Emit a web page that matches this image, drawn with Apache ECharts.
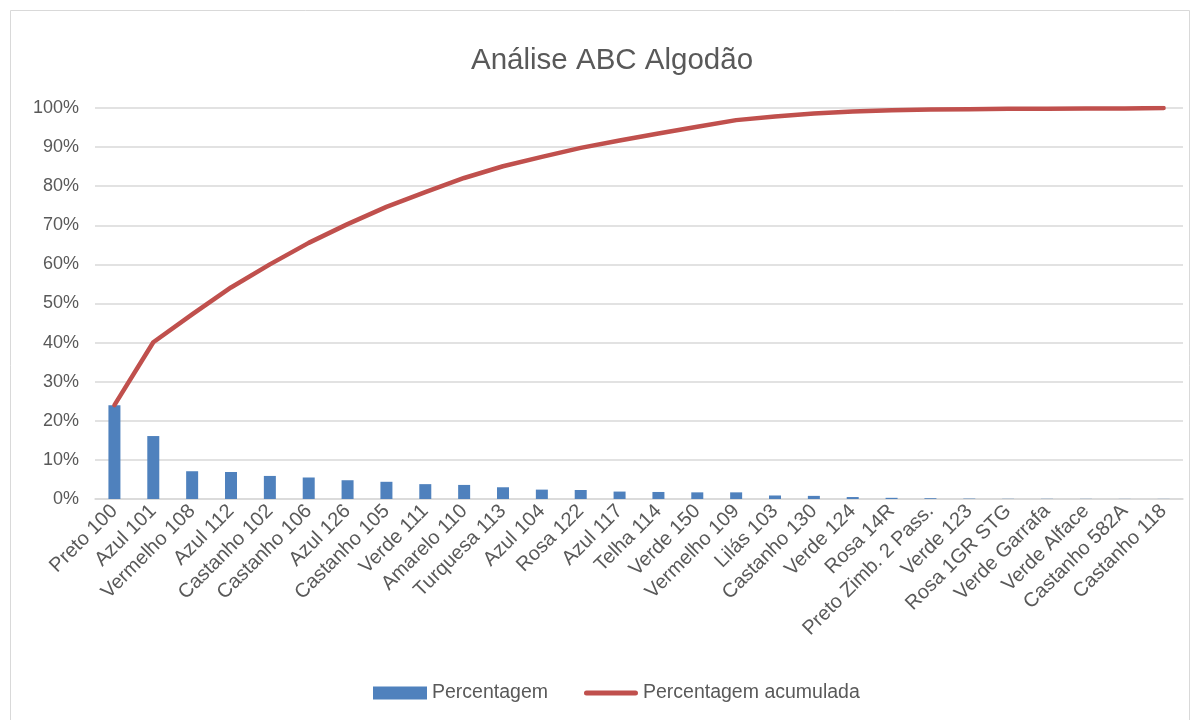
<!DOCTYPE html>
<html>
<head>
<meta charset="utf-8">
<script src="https://cdn.jsdelivr.net/npm/echarts@6/dist/echarts.min.js"></script>
<style>
  html, body { margin: 0; padding: 0; background: #ffffff; }
  #chart { width: 1200px; height: 720px; }
</style>
</head>
<body>
<div id="chart"></div>
<script>
// Cores de algodão, ordenadas por percentagem (análise ABC)
const categories = [
  'Preto 100', 'Azul 101', 'Vermelho 108', 'Azul 112', 'Castanho 102',
  'Castanho 106', 'Azul 126', 'Castanho 105', 'Verde 111', 'Amarelo 110',
  'Turquesa 113', 'Azul 104', 'Rosa 122', 'Azul 117', 'Telha 114',
  'Verde 150', 'Vermelho 109', 'Lilás 103', 'Castanho 130', 'Verde 124',
  'Rosa 14R', 'Preto Zimb. 2 Pass.', 'Verde 123', 'Rosa 1GR STG',
  'Verde Garrafa', 'Verde Alface', 'Castanho 582A', 'Castanho 118'
];

// Percentagem de cada cor (%)
const percentagem = [
  24.0, 16.1, 7.1, 6.9, 5.9, 5.5, 4.8, 4.4, 3.8, 3.6,
  3.0, 2.4, 2.3, 1.9, 1.8, 1.7, 1.7, 0.9, 0.8, 0.5,
  0.3, 0.2, 0.1, 0.05, 0.05, 0.04, 0.03, 0.03
];

// Percentagem acumulada (%)
const acumulada = [
  24.0, 40.1, 47.2, 54.1, 60.0, 65.5, 70.3, 74.7, 78.5, 82.1,
  85.1, 87.5, 89.8, 91.7, 93.5, 95.2, 96.9, 97.8, 98.6, 99.1,
  99.4, 99.6, 99.7, 99.8, 99.8, 99.9, 99.9, 100.0
];

const FONT = "'Liberation Sans', Arial, sans-serif";
const TEXT = '#595959';
const GRID = '#d9d9d9';

const chart = echarts.init(document.getElementById('chart'), null, { renderer: 'canvas' });

chart.setOption({
  backgroundColor: '#ffffff',
  animation: false,
  textStyle: { fontFamily: FONT, color: TEXT },
  graphic: [{
    type: 'rect',
    shape: { x: 10.5, y: 10.5, width: 1179, height: 720 },
    style: { fill: 'none', stroke: GRID, lineWidth: 1 },
    silent: true
  }],
  title: {
    text: 'Análise ABC Algodão',
    left: 466,
    top: 41,
    textStyle: { fontFamily: FONT, fontSize: 29.5, fontWeight: 'normal', color: TEXT }
  },
  legend: {
    left: 368,
    bottom: 12,
    itemGap: 36,
    itemWidth: 54,
    itemHeight: 13,
    textStyle: { fontFamily: FONT, fontSize: 19.5, color: TEXT },
    data: [
      { name: 'Percentagem', icon: 'rect' },
      { name: 'Percentagem acumulada', icon: 'path://M2.5,0 L51.5,0 A2.5,2.5 0 0 1 51.5,5 L2.5,5 A2.5,2.5 0 0 1 2.5,0 Z' }
    ]
  },
  grid: { left: 95, right: 17, top: 108, bottom: 221, containLabel: false },
  xAxis: {
    type: 'category',
    data: categories,
    boundaryGap: true,
    axisLine: { show: true, lineStyle: { color: GRID, width: 1.5 } },
    axisTick: { show: false },
    axisLabel: {
      interval: 0,
      rotate: 45,
      margin: 9,
      fontFamily: FONT,
      fontSize: 20,
      color: TEXT
    }
  },
  yAxis: {
    type: 'value',
    min: 0,
    max: 100,
    interval: 10,
    axisLine: { show: false },
    axisTick: { show: false },
    splitLine: { lineStyle: { color: GRID, width: 1.5 } },
    axisLabel: {
      formatter: '{value}%',
      margin: 16,
      fontFamily: FONT,
      fontSize: 18,
      color: TEXT
    }
  },
  series: [
    {
      name: 'Percentagem',
      type: 'bar',
      data: percentagem,
      barWidth: 12,
      itemStyle: { color: '#4f81bd' }
    },
    {
      name: 'Percentagem acumulada',
      type: 'line',
      data: acumulada,
      symbol: 'none',
      smooth: false,
      lineStyle: { color: '#c0504d', width: 4.5, cap: 'round', join: 'round' },
      itemStyle: { color: '#c0504d' }
    }
  ]
});
</script>
</body>
</html>
